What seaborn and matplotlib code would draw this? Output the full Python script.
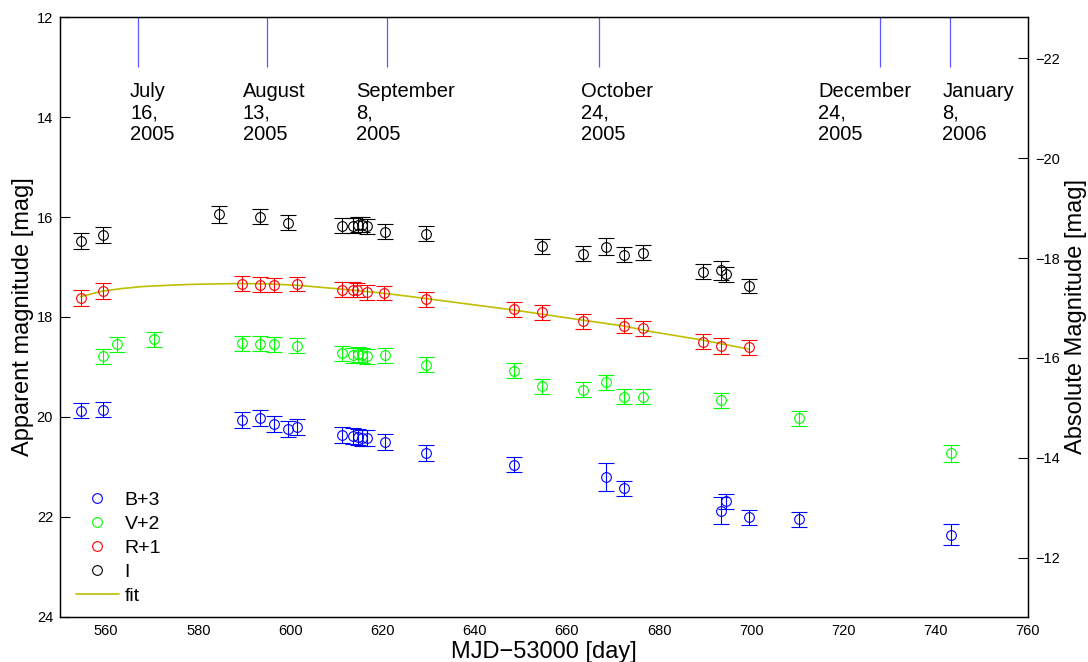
import matplotlib
matplotlib.use("Agg")
import matplotlib.pyplot as plt
import numpy as np
import pandas as pd
import seaborn as sns
from matplotlib.lines import Line2D

# ---- photometry (MJD-53000, magnitude with band offsets already applied) ----
b_day = [554.5, 559.4, 589.5, 593.5, 596.5, 599.4, 601.4, 611.1, 613.5, 614.6, 615.6,
         616.7, 620.5, 629.4, 648.4, 668.5, 672.4, 693.4, 694.5, 699.4, 710.4, 743.4]
b_mag = [19.88, 19.86, 20.06, 20.03, 20.15, 20.25, 20.21, 20.36, 20.38, 20.41, 20.42,
         20.43, 20.51, 20.73, 20.96, 21.20, 21.43, 21.88, 21.69, 22.01, 22.05, 22.36]
b_err = [0.15, 0.15, 0.16, 0.16, 0.16, 0.16, 0.16, 0.16, 0.16, 0.16, 0.16,
         0.16, 0.16, 0.16, 0.15, 0.28, 0.15, 0.27, 0.15, 0.15, 0.15, 0.21]

v_day = [559.4, 562.4, 570.4, 589.5, 593.5, 596.5, 601.4, 611.1, 613.5, 614.6, 615.6,
         616.7, 620.5, 629.4, 648.4, 654.5, 663.4, 668.5, 672.4, 676.4, 693.4, 710.4, 743.4]
v_mag = [18.79, 18.55, 18.45, 18.53, 18.54, 18.55, 18.58, 18.73, 18.77, 18.75, 18.77,
         18.79, 18.77, 18.96, 19.08, 19.39, 19.46, 19.31, 19.60, 19.60, 19.67, 20.03, 20.73]
v_err = [0.15, 0.15, 0.15, 0.15, 0.15, 0.15, 0.15, 0.15, 0.15, 0.15, 0.15,
         0.15, 0.15, 0.15, 0.15, 0.15, 0.15, 0.15, 0.15, 0.15, 0.15, 0.15, 0.17]

r_day = [554.5, 559.4, 589.5, 593.5, 596.5, 601.4, 611.1, 613.5, 614.4, 616.6, 620.4,
         629.4, 648.4, 654.5, 663.4, 672.4, 676.4, 689.4, 693.4, 699.5]
r_mag = [17.63, 17.48, 17.33, 17.35, 17.36, 17.34, 17.45, 17.45, 17.46, 17.51, 17.52,
         17.65, 17.85, 17.91, 18.09, 18.18, 18.23, 18.50, 18.59, 18.61]
r_err = [0.16, 0.16, 0.15, 0.15, 0.15, 0.15, 0.15, 0.15, 0.15, 0.15, 0.15,
         0.15, 0.15, 0.15, 0.15, 0.15, 0.15, 0.15, 0.16, 0.15]

i_day = [554.5, 559.4, 584.5, 593.5, 599.4, 611.1, 613.5, 614.6, 615.6, 616.7, 620.5,
         629.4, 654.6, 663.4, 668.5, 672.4, 676.4, 689.4, 693.4, 694.5, 699.5]
i_mag = [16.48, 16.36, 15.94, 15.99, 16.11, 16.17, 16.17, 16.15, 16.15, 16.18, 16.29,
         16.33, 16.58, 16.73, 16.59, 16.75, 16.71, 17.09, 17.06, 17.14, 17.38]
i_err = [0.16, 0.16, 0.17, 0.15, 0.15, 0.15, 0.15, 0.15, 0.15, 0.15, 0.15,
         0.15, 0.15, 0.15, 0.17, 0.15, 0.15, 0.15, 0.19, 0.15, 0.15]

# ---- R-band light-curve fit ----
fit_day = [554.5, 559.4, 563.5, 568.1, 572.5, 577.5, 583.0, 589.5, 596.0, 602.1,
           610.8, 618.8, 626.0, 648.4, 663.2, 672.3, 678.1, 689.3, 699.3]
fit_mag = [17.59, 17.48, 17.43, 17.39, 17.37, 17.35, 17.34, 17.33, 17.34, 17.37,
           17.44, 17.51, 17.59, 17.86, 18.06, 18.18, 18.29, 18.46, 18.64]

# ---- calendar markers ----
event_day = [567, 595, 621, 667, 728, 743]
event_text = ["July\n16,\n2005", "August\n13,\n2005", "September\n8,\n2005",
              "October\n24,\n2005", "December\n24,\n2005", "January\n8,\n2006"]
event_text_x = [565.2, 589.7, 614.3, 663.0, 714.5, 741.4]

distance_modulus = 34.82

band_labels = ["B+3", "V+2", "R+1", "I"]
band_colors = ["#0000ff", "#00ff00", "#ff0000", "#000000"]
fit_color = "#bfbf00"
event_color = "#5a5aff"

frames = []
for lab, d, m, e in zip(band_labels, [b_day, v_day, r_day, i_day],
                        [b_mag, v_mag, r_mag, i_mag], [b_err, v_err, r_err, i_err]):
    frames.append(pd.DataFrame({"band": lab, "day": d, "mag": m, "err": e}))
phot = pd.concat(frames, ignore_index=True)
fit_df = pd.DataFrame({"day": fit_day, "mag": fit_mag})

sns.set_theme(style="white")
plt.rcParams["font.family"] = ["Liberation Sans", "DejaVu Sans"]
plt.rcParams["axes.edgecolor"] = "black"
plt.rcParams["axes.linewidth"] = 0.9
plt.rcParams["text.color"] = "black"
plt.rcParams["axes.labelcolor"] = "black"
plt.rcParams["xtick.color"] = "black"
plt.rcParams["ytick.color"] = "black"

fig = plt.figure(figsize=(10.88, 6.62), dpi=100)
ax = fig.add_axes([0.0551, 0.0680, 0.8897, 0.9063])

for lab, col in zip(band_labels, band_colors):
    sub = phot[phot["band"] == lab]
    ax.errorbar(sub["day"], sub["mag"], yerr=sub["err"], fmt="o", ms=7,
                mfc="none", mec=col, mew=0.8, ecolor=col, elinewidth=0.8,
                capsize=6, capthick=0.8, zorder=3)

sns.lineplot(data=fit_df, x="day", y="mag", color=fit_color, lw=1.2,
             estimator=None, sort=False, ax=ax, zorder=2)

ax.vlines(event_day, 12, 13, color=event_color, lw=0.9)
for tx, txt in zip(event_text_x, event_text):
    ax.text(tx, 13.30, txt, ha="left", va="top", fontsize=14.5,
            linespacing=1.17, color="black")

ax.set_xlim(550, 760)
ax.set_ylim(24, 12)
ax.set_xticks(np.arange(560, 761, 20))
ax.set_yticks(np.arange(12, 25, 2))
ax.tick_params(direction="in", length=7, width=0.8, labelsize=10.5,
               top=False, right=False, colors="black", pad=5)
ax.set_xlabel("MJD\u221253000 [day]", fontsize=17, labelpad=2)
ax.set_ylabel("Apparent magnitude [mag]", fontsize=17, labelpad=2)

ax2 = ax.twinx()
ax2.set_ylim(24 - distance_modulus, 12 - distance_modulus)
ax2.set_yticks(np.arange(-22, -11, 2))
ax2.tick_params(direction="in", length=7, width=0.8, labelsize=10.5,
                colors="black", pad=5)
ax2.set_ylabel("Absolute Magnitude [mag]", fontsize=17, labelpad=4)
for a in (ax, ax2):
    for s in a.spines.values():
        s.set_color("black")
        s.set_linewidth(0.9)

handles = [Line2D([], [], ls="none", marker="o", ms=7, mfc="none", mec=c, mew=0.8)
           for c in band_colors]
handles.append(Line2D([], [], color=fit_color, lw=1.2))
ax.legend(handles, band_labels + ["fit"], loc="lower left",
          bbox_to_anchor=(0.0165, 0.02), frameon=False, fontsize=14,
          handlelength=2.2, handletextpad=0.3, labelspacing=0.33,
          borderpad=0, borderaxespad=0)

fig.savefig("out.png", dpi=100)
